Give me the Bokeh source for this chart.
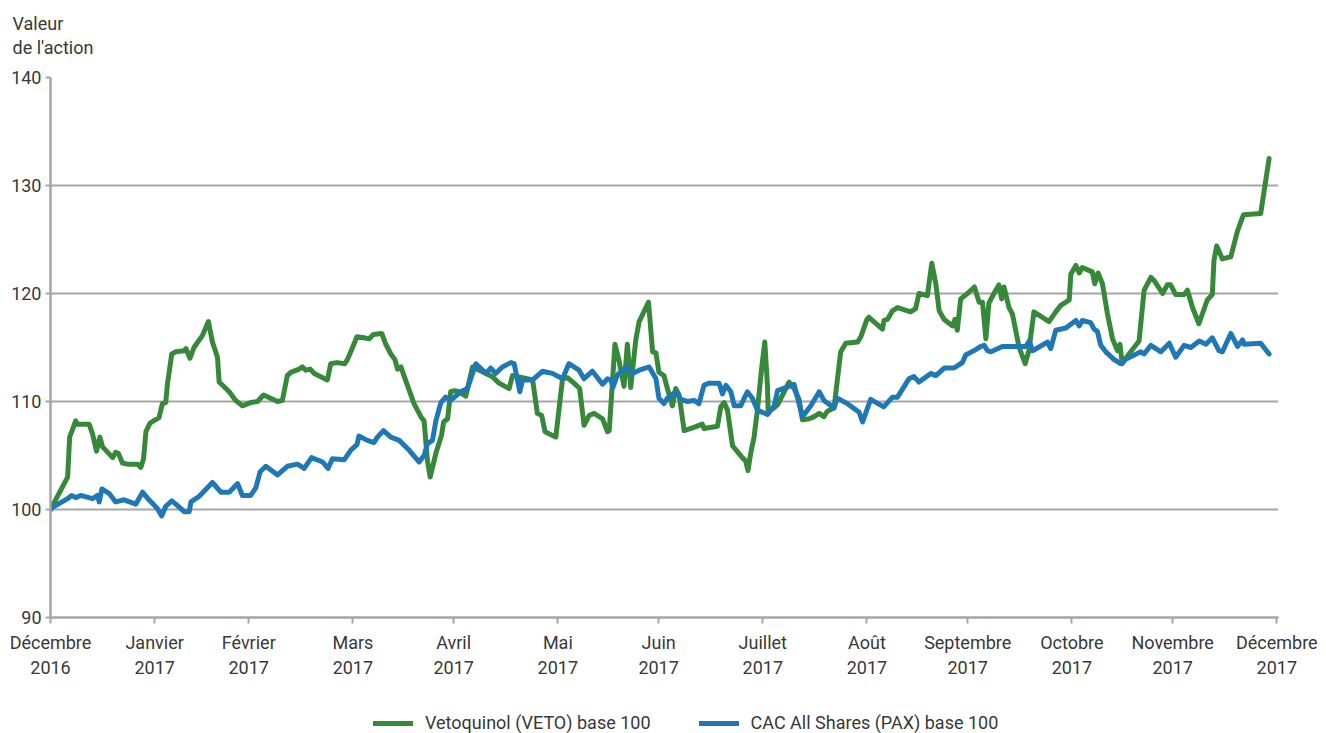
from bokeh.plotting import figure
from bokeh.layouts import column
from bokeh.models import Range1d, FixedTicker, Legend, LegendItem, Title
from bokeh.embed import file_html
from bokeh.resources import INLINE

# Axe des temps : jours depuis le 1er janvier 2017 (fin décembre 2016 = base 100)
mois_jours = [0, 31, 59, 90, 120, 151, 181, 212, 243, 273, 304, 334, 365]
mois_labels = ["Décembre\n2016", "Janvier\n2017", "Février\n2017", "Mars\n2017",
               "Avril\n2017", "Mai\n2017", "Juin\n2017", "Juillet\n2017",
               "Août\n2017", "Septembre\n2017", "Octobre\n2017", "Novembre\n2017",
               "Décembre\n2017"]
y_ticks = [90, 100, 110, 120, 130, 140]

# Vetoquinol (VETO) base 100
veto_jours = [0, 5.1, 5.7, 7.5, 8.0, 11.5, 12.5, 13.7, 14.7, 15.5, 18.5, 19.4, 20.2, 21.4,
              22.9, 25.9, 26.9, 27.7, 28.4, 29.6, 32.3, 33.3, 34.3, 34.8, 36.1, 37.3, 39.8,
              40.3, 41.5, 42.7, 45.2, 47.0, 48.2, 49.7, 50.2, 53.2, 55.1, 57.1, 59.6, 61.6,
              63.4, 67.6, 69.0, 70.5, 71.5, 74.0, 75.0, 76.0, 77.3, 78.5, 82.4, 83.4, 85.2,
              87.6, 88.4, 89.9, 91.2, 93.3, 94.8, 96.1, 98.6, 99.8, 101.3, 102.5, 103.3,
              104.3, 105.2, 108.2, 110.4, 111.2, 112.2, 113.0, 114.7, 116.4, 117.0, 118.2,
              119.1, 120.3, 121.6, 123.6, 125.6, 127.6, 129.6, 131.5, 133.5, 136.5, 137.5,
              139.0, 140.5, 143.5, 144.9, 146.2, 147.2, 150.4, 152.4, 153.9, 155.8, 157.5,
              158.8, 160.3, 161.8, 164.3, 165.8, 166.3, 168.0, 169.2, 170.7, 171.7, 172.7,
              174.2, 175.2, 178.0, 179.2, 180.2, 181.1, 182.6, 183.6, 185.1, 186.1, 187.1,
              188.6, 191.5, 194.0, 194.5, 198.5, 199.5, 200.5, 201.5, 203.0, 205.9, 206.9,
              207.6, 208.4, 209.4, 210.4, 211.6, 212.6, 213.4, 213.6, 214.9, 216.4, 217.9,
              219.8, 221.3, 222.8, 223.8, 225.8, 227.3, 228.8, 230.2, 231.2, 233.2, 235.2,
              236.7, 240.2, 241.2, 243.0, 243.6, 247.6, 248.1, 249.1, 250.6, 252.1, 255.1,
              256.0, 257.5, 258.5, 261.0, 262.3, 263.5, 264.5, 266.0, 268.5, 269.2, 269.9,
              270.9, 272.9, 275.0, 276.4, 277.4, 278.4, 279.3, 280.8, 282.3, 283.1, 283.8,
              285.3, 286.3, 288.3, 290.1, 291.2, 292.7, 297.2, 299.2, 300.7, 303.2, 303.7,
              305.2, 306.2, 307.1, 310.1, 310.8, 311.8, 313.1, 314.6, 316.1, 317.6, 318.3,
              319.0, 321.0, 324.0, 325.5, 327.5, 328.5, 331.0, 332.4, 333.4, 334.9, 337.4,
              338.4, 339.9, 341.8, 344.3, 345.8, 346.3, 347.1, 348.8, 351.3, 353.3, 355.1,
              360.2, 362.7]
veto_valeurs = [100.0, 103.0, 106.7, 108.2, 107.9, 107.9, 107.0, 105.4, 106.7, 105.8, 104.8,
                105.3, 105.2, 104.3, 104.2, 104.2, 103.9, 104.7, 107.2, 108.0, 108.5, 109.8,
                109.9, 111.6, 114.4, 114.6, 114.7, 114.9, 114.0, 115.0, 116.1, 117.4, 115.5,
                114.1, 111.8, 110.9, 110.1, 109.6, 109.9, 110.0, 110.6, 110.0, 110.1, 112.4,
                112.7, 113.0, 113.2, 112.9, 113.0, 112.6, 112.0, 113.5, 113.6, 113.5, 113.9,
                115.0, 116.0, 115.9, 115.8, 116.2, 116.3, 115.3, 114.4, 113.9, 113.0, 113.2,
                112.4, 109.8, 108.5, 108.2, 104.5, 103.0, 105.2, 106.9, 108.1, 108.4, 110.9,
                111.0, 110.9, 110.5, 113.2, 112.9, 112.6, 112.3, 111.7, 111.2, 112.4, 112.3,
                112.2, 112.0, 108.9, 108.7, 107.2, 106.7, 112.1, 112.2, 111.7, 111.2, 107.8,
                108.7, 108.9, 108.4, 107.2, 107.3, 115.3, 113.8, 111.4, 115.3, 111.3, 115.7,
                117.4, 119.2, 114.6, 114.5, 112.7, 112.4, 111.2, 109.6, 111.2, 110.6, 107.3,
                107.6, 107.9, 107.5, 107.7, 109.5, 109.9, 109.2, 105.9, 104.8, 104.5, 103.6,
                105.2, 106.7, 109.2, 112.9, 115.5, 111.4, 109.1, 109.3, 109.7, 110.6, 111.8,
                111.2, 110.2, 108.3, 108.4, 108.6, 108.9, 108.6, 109.1, 109.4, 114.6, 115.4,
                115.5, 116.0, 117.6, 117.8, 116.7, 117.5, 117.6, 118.4, 118.7, 118.4, 118.3,
                118.6, 120.0, 119.8, 122.8, 120.9, 118.4, 117.6, 117.0, 117.6, 116.6, 119.5,
                120.0, 120.6, 119.2, 119.2, 115.8, 119.1, 120.0, 120.8, 119.5, 120.6, 118.7,
                118.1, 115.0, 113.5, 114.7, 118.3, 117.4, 118.3, 118.9, 119.4, 121.8, 122.6,
                121.9, 122.4, 122.0, 120.9, 121.9, 120.9, 118.1, 115.8, 114.7, 115.3, 113.5,
                114.4, 115.6, 120.3, 121.5, 121.2, 120.0, 120.8, 120.8, 119.9, 119.9, 120.3,
                118.7, 117.2, 119.4, 119.9, 123.1, 124.4, 123.2, 123.4, 125.8, 127.3, 127.4,
                132.5]

# CAC All Shares (PAX) base 100
pax_jours = [0, 0.6, 5.1, 6.3, 7.5, 9.0, 12.5, 14.0, 14.5, 15.3, 17.4, 19.4, 21.9, 25.4,
             27.4, 29.3, 31.8, 33.1, 34.3, 36.1, 37.3, 39.8, 41.3, 41.8, 44.2, 48.2, 50.7,
             53.2, 55.7, 57.1, 59.6, 61.1, 62.4, 64.1, 67.6, 70.5, 73.5, 75.5, 77.7, 81.0,
             82.6, 83.9, 87.4, 89.4, 91.2, 91.8, 94.3, 96.3, 97.3, 99.1, 101.3, 103.8, 106.7,
             109.7, 111.2, 112.2, 113.7, 114.7, 116.2, 117.6, 119.1, 122.1, 124.1, 126.6,
             129.6, 131.0, 132.5, 134.5, 137.0, 138.0, 139.7, 140.5, 143.5, 146.4, 149.4,
             152.4, 154.3, 157.3, 158.8, 159.8, 161.3, 164.3, 165.8, 166.8, 167.4, 168.8,
             171.7, 173.2, 175.2, 178.2, 180.2, 181.1, 182.6, 183.6, 186.1, 187.6, 189.6,
             191.5, 193.0, 194.5, 196.0, 199.0, 200.0, 201.0, 202.5, 203.5, 205.4, 207.4,
             208.9, 210.4, 213.4, 215.4, 216.4, 219.8, 221.3, 222.3, 223.8, 226.3, 228.8,
             230.2, 233.2, 234.2, 237.2, 240.7, 241.7, 244.1, 248.0, 250.6, 252.1, 255.5,
             257.0, 258.5, 262.0, 263.5, 266.0, 268.9, 271.4, 272.4, 275.4, 276.9, 277.9,
             278.9, 279.9, 283.3, 290.3, 291.3, 292.3, 296.7, 297.7, 299.2, 302.2, 305.2,
             306.2, 307.1, 309.6, 310.6, 311.6, 312.6, 314.1, 316.5, 318.5, 320.0, 324.5,
             325.5, 327.5, 330.5, 333.0, 334.9, 337.4, 339.4, 341.9, 343.9, 345.8, 347.8,
             348.8, 351.3, 353.3, 354.8, 355.3, 360.2, 362.7]
pax_valeurs = [100.0, 100.2, 101.0, 101.3, 101.1, 101.3, 101.0, 101.3, 100.7, 101.9, 101.5,
               100.7, 100.9, 100.5, 101.6, 100.9, 100.1, 99.4, 100.3, 100.8, 100.5, 99.8,
               99.8, 100.7, 101.2, 102.5, 101.6, 101.6, 102.4, 101.3, 101.3, 102.0, 103.5,
               104.0, 103.2, 104.0, 104.2, 103.8, 104.8, 104.4, 103.8, 104.7, 104.6, 105.5,
               106.0, 106.8, 106.4, 106.2, 106.7, 107.3, 106.7, 106.4, 105.5, 104.4, 105.0,
               106.1, 106.4, 108.2, 109.9, 110.4, 110.1, 110.9, 111.2, 113.5, 112.6, 113.1,
               112.6, 113.2, 113.6, 113.5, 110.9, 112.0, 112.0, 112.8, 112.6, 112.1, 113.5,
               112.9, 112.1, 112.4, 112.8, 111.6, 112.1, 112.0, 111.3, 112.5, 113.2, 112.6,
               112.9, 113.2, 112.1, 110.3, 109.8, 110.3, 110.9, 110.2, 110.0, 110.1, 109.8,
               111.5, 111.7, 111.7, 110.7, 111.5, 110.9, 109.6, 109.6, 110.9, 110.3, 109.2,
               108.8, 109.6, 111.0, 111.4, 111.6, 110.4, 108.6, 109.6, 110.9, 110.1, 109.4,
               110.3, 109.8, 109.0, 108.1, 110.2, 109.5, 110.4, 110.4, 112.1, 112.3, 111.8,
               112.6, 112.4, 113.1, 113.1, 113.6, 114.3, 114.8, 115.1, 115.2, 114.7, 114.6,
               115.1, 115.1, 115.6, 114.7, 115.5, 114.9, 116.6, 116.8, 117.5, 117.0, 117.5,
               117.3, 116.7, 116.5, 115.2, 114.6, 113.9, 113.5, 113.9, 114.6, 114.4, 115.2,
               114.6, 115.4, 114.1, 115.2, 115.0, 115.6, 115.3, 115.9, 114.7, 114.6, 116.3,
               115.1, 115.7, 115.3, 115.4, 114.4]

FONT = "Roboto"
FS = "18px"
TXT = "#383838"
GRIS = "#a6a6a6"
VERT = "#37893a"
BLEU = "#1f78b6"

# ---- graphique principal ----
p = figure(width=1326, height=690, output_backend="svg", toolbar_location=None,
           x_range=Range1d(0, 365.5), y_range=Range1d(90, 140),
           min_border_left=50, min_border_right=48, min_border_top=77,
           min_border_bottom=73)
p.outline_line_color = None
p.background_fill_color = "white"
p.border_fill_color = "white"

# Titre de l'axe des valeurs (deux lignes) : espace vide, puis "de l'action", puis "Valeur"
def titre(texte, standoff, taille=FS):
    return Title(text=texte, align="left", offset=-38, standoff=standoff,
                 text_font=FONT, text_font_size=taille, text_font_style="normal",
                 text_color=TXT)

p.add_layout(titre(" ", 0, "15px"), "above")
p.add_layout(titre("de l'action", 0), "above")
p.title.text = "Valeur"
p.title.align = "left"
p.title.offset = -38
p.title.standoff = 1
p.title.text_font = FONT
p.title.text_font_size = FS
p.title.text_font_style = "normal"
p.title.text_color = TXT

r_veto = p.line(veto_jours, veto_valeurs, line_color=VERT, line_width=5,
                line_join="round", line_cap="round")
r_pax = p.line(pax_jours, pax_valeurs, line_color=BLEU, line_width=5,
               line_join="round", line_cap="round")

p.xgrid.grid_line_color = None
p.ygrid.grid_line_color = GRIS
p.ygrid.grid_line_width = 2
p.yaxis.ticker = FixedTicker(ticks=y_ticks)
p.xaxis.ticker = FixedTicker(ticks=mois_jours)
p.xaxis.major_label_overrides = {j: l for j, l in zip(mois_jours, mois_labels)}

for ax in (p.xaxis[0], p.yaxis[0]):
    ax.axis_line_color = GRIS
    ax.axis_line_width = 2.5
    ax.major_tick_line_color = GRIS
    ax.major_tick_line_width = 2
    ax.minor_tick_line_color = None
    ax.major_tick_in = 0
    ax.major_label_text_font = FONT
    ax.major_label_text_font_size = FS
    ax.major_label_text_color = TXT
p.xaxis.major_tick_out = 6
p.xaxis.major_label_standoff = 8
p.yaxis.major_tick_out = 5
p.yaxis.major_label_standoff = 4

# ---- bandeau de légende (mêmes séries, hors de la fenêtre visible) ----
leg = figure(width=1326, height=43, output_backend="svg", toolbar_location=None,
             x_range=Range1d(-2, -1), y_range=Range1d(-2, -1),
             x_axis_location=None, y_axis_location=None,
             min_border_left=0, min_border_right=0, min_border_top=0,
             min_border_bottom=0)
leg.outline_line_color = None
leg.grid.visible = False
leg.border_fill_color = "white"
leg.background_fill_color = "white"
l_veto = leg.line(veto_jours, veto_valeurs, line_color=VERT, line_width=5, line_cap="round")
l_pax = leg.line(pax_jours, pax_valeurs, line_color=BLEU, line_width=5, line_cap="round")
legend = Legend(items=[LegendItem(label="Vetoquinol (VETO) base 100", renderers=[l_veto]),
                       LegendItem(label="CAC All Shares (PAX) base 100", renderers=[l_pax])],
                location=(323, 0), orientation="horizontal", padding=0, margin=0,
                spacing=48, border_line_color=None, background_fill_alpha=0,
                glyph_width=40, glyph_height=20, label_standoff=12, label_text_font=FONT,
                label_text_font_size=FS, label_text_color=TXT)
leg.add_layout(legend, "center")

page = column(p, leg, spacing=0)
open("out.html", "w").write(file_html(page, INLINE))
